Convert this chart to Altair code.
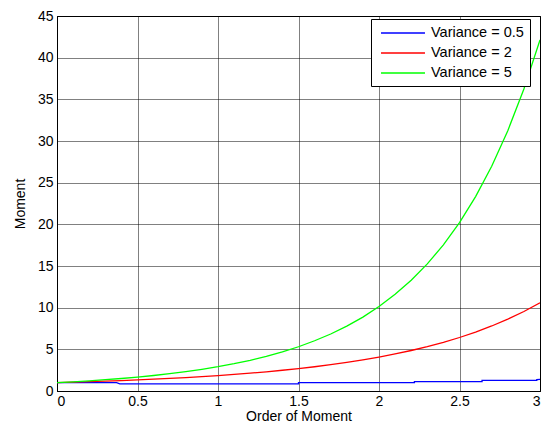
import altair as alt
import pandas as pd

# ---- data ----
series_names = ["Variance = 0.5", "Variance = 2", "Variance = 5"]
series_colors = ["#0000ff", "#ff0000", "#00ff00"]

x_smooth = [0.0, 0.1, 0.2, 0.3, 0.4, 0.5, 0.6, 0.7, 0.8, 0.9, 1.0,
            1.1, 1.2, 1.3, 1.4, 1.5, 1.6, 1.7, 1.8, 1.9, 2.0,
            2.1, 2.2, 2.3, 2.4, 2.5, 2.6, 2.7, 2.8, 2.9, 3.0]

red_y = [1.00, 1.056, 1.116, 1.182, 1.254, 1.334, 1.419, 1.514, 1.617, 1.730, 1.854,
         1.990, 2.141, 2.306, 2.488, 2.690, 2.912, 3.158, 3.431, 3.734, 4.071,
         4.444, 4.860, 5.325, 5.844, 6.420, 7.073, 7.802, 8.621, 9.541, 10.58]

green_y = [1.00, 1.104, 1.221, 1.353, 1.501, 1.669, 1.859, 2.074, 2.319, 2.596, 2.912,
           3.273, 3.684, 4.156, 4.694, 5.310, 6.030, 6.840, 7.790, 8.870, 10.14,
           11.60, 13.29, 15.25, 17.54, 20.21, 23.33, 26.97, 31.24, 36.25, 42.14]

blue_x = [0.0, 0.37, 0.39, 1.50, 1.50, 2.22, 2.22, 2.64, 2.64, 2.98, 2.98, 3.0]
blue_y = [1.0, 1.0, 0.86, 0.86, 1.0, 1.0, 1.13, 1.13, 1.28, 1.28, 1.38, 1.40]

x_ticks = [0, 0.5, 1, 1.5, 2, 2.5, 3]
y_ticks = [0, 5, 10, 15, 20, 25, 30, 35, 40, 45]

rows = []
for i, (xv, yv) in enumerate(zip(blue_x, blue_y)):
    rows.append({"series": series_names[0], "x": xv, "y": yv, "i": i})
for i, (xv, yv) in enumerate(zip(x_smooth, red_y)):
    rows.append({"series": series_names[1], "x": xv, "y": yv, "i": i})
for i, (xv, yv) in enumerate(zip(x_smooth, green_y)):
    rows.append({"series": series_names[2], "x": xv, "y": yv, "i": i})
df = pd.DataFrame(rows)

FONT = "Liberation Sans"

chart = alt.Chart(df).mark_line(strokeWidth=1.3, clip=True).encode(
    x=alt.X("x:Q", title="Order of Moment",
            scale=alt.Scale(domain=[0, 3], nice=False, zero=False),
            axis=alt.Axis(values=x_ticks, format="~g", labelPadding=3,
                          titlePadding=1)),
    y=alt.Y("y:Q", title="Moment",
            scale=alt.Scale(domain=[0, 45], nice=False),
            axis=alt.Axis(values=y_ticks, format="~g", labelPadding=4,
                          titlePadding=10)),
    color=alt.Color("series:N",
                    scale=alt.Scale(domain=series_names, range=series_colors),
                    sort=series_names,
                    legend=alt.Legend(orient="none", legendX=314, legendY=3,
                                      title=None,
                                      symbolType="M-3.14,0H3.14",
                                      symbolSize=196,
                                      symbolStrokeWidth=1.5,
                                      symbolOffset=18,
                                      labelOffset=20,
                                      padding=6,
                                      rowPadding=5,
                                      strokeColor="#000",
                                      fillColor="#fff",
                                      labelFont=FONT,
                                      labelFontSize=14.5,
                                      labelColor="#000")),
    order="i:Q",
).properties(
    width=483, height=375,
    autosize=alt.AutoSizeParams(type="none"),
    padding={"left": 49, "top": 8, "right": 5, "bottom": 33},
).configure_view(
    stroke="#000", strokeWidth=1
).configure_axis(
    grid=True, gridColor="#000", gridDash=[1, 1], gridOpacity=1, gridWidth=1,
    ticks=False, domain=True, domainColor="#000", domainWidth=1,
    labelFont=FONT, labelFontSize=14, labelColor="#000",
    titleFont=FONT, titleFontSize=14, titleFontWeight="normal", titleColor="#000",
)

chart.save("out.html", embed_options={"renderer": "svg", "actions": False})
